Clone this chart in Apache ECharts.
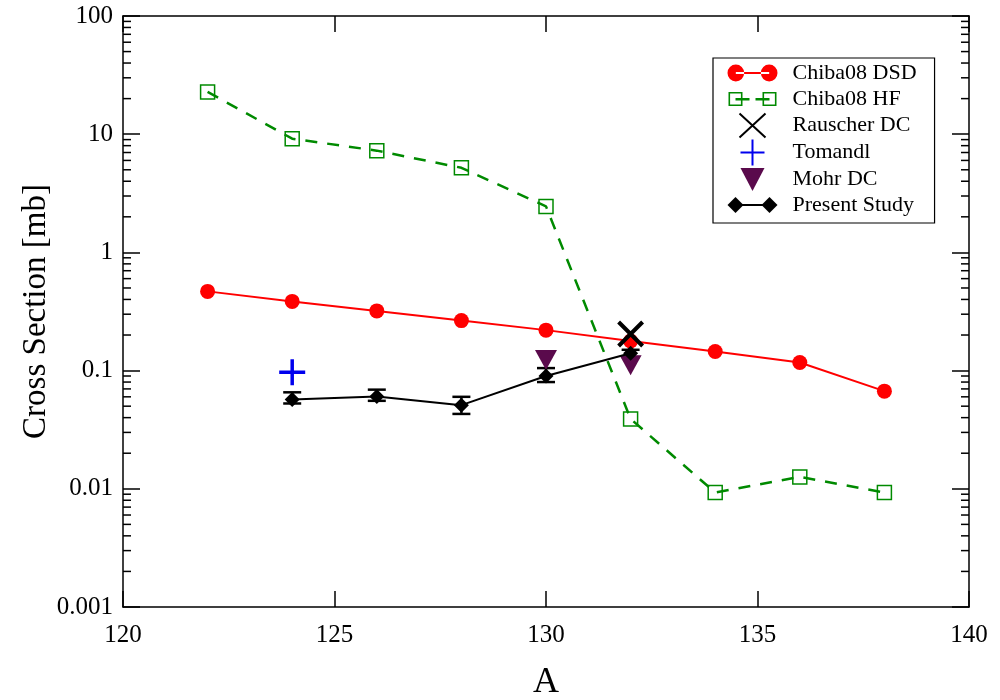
<!DOCTYPE html>
<html>
<head>
<meta charset="utf-8">
<script src="https://cdn.jsdelivr.net/npm/echarts@6/dist/echarts.min.js"></script>
<style>html,body{margin:0;padding:0;background:#fff}#c{width:1000px;height:700px}</style>
</head>
<body>
<div id="c"></div>
<script>
const massA = [122, 124, 126, 128, 130, 132, 134, 136, 138];
const chibaDSD = [0.468, 0.385, 0.32, 0.265, 0.22, 0.178, 0.145, 0.117, 0.067];
const chibaHF = [22.8, 9.16, 7.26, 5.2, 2.45, 0.039, 0.0093, 0.0126, 0.0093];
const rauscherA = [132];
const rauscherDC = [0.204];
const tomandlA = [124];
const tomandl = [0.097];
const mohrA = [130, 132];
const mohrDC = [0.123, 0.111];
const presentA = [124, 126, 128, 130, 132];
const presentStudy = [0.057, 0.0605, 0.051, 0.09, 0.14];
const presentLow = [0.0527, 0.0555, 0.043, 0.08, 0.13];
const presentHigh = [0.0655, 0.069, 0.060, 0.105, 0.15];
const xTickLabels = ['120', '125', '130', '135', '140'];
const yTickLabels = ['0.001', '0.01', '0.1', '1', '10', '100'];

const FONT = 'Liberation Serif';
const minorVals = [];
for (let e = -3; e <= 1; e++) for (let m = 2; m <= 9; m++) minorVals.push(m * Math.pow(10, e));

const zip = (xs, ys) => xs.map((x, i) => [x, ys[i]]);

// legend icons, all framed in the same 50 x 26 box
const FR = 'M0,0L0,0M50,26L50,26 ';
const iconDSD = 'path://' + FR + 'M-0.5,13a8.5,8.5 0 1,0 17,0a8.5,8.5 0 1,0 -17,0Z M33.5,13a8.5,8.5 0 1,0 17,0a8.5,8.5 0 1,0 -17,0Z M8,12L42,12L42,14L8,14Z';
const iconHF = 'path://' + FR + 'M1,6L15,6L15,20L1,20Z M2.6,7.6L2.6,18.4L13.4,18.4L13.4,7.6Z ' +
  'M35,6L49,6L49,20L35,20Z M36.6,7.6L36.6,18.4L47.4,18.4L47.4,7.6Z ' +
  'M8,12L22,12L22,14.4L8,14.4Z M28,12L35,12L35,14.4L28,14.4Z M36.6,12L42,12L42,14.4L36.6,14.4Z';
const iconX = 'path://' + FR + 'M12,1L38,25M38,1L12,25';
const iconPlus = 'path://' + FR + 'M25,-1L25,27M13,13L37,13';
const iconMohr = 'path://' + FR + 'M13,2L37,2L25,25Z';
const iconPS = 'path://' + FR + 'M0,13L8,5L16,13L8,21Z M34,13L42,5L50,13L42,21Z M8,12L42,12L42,14L8,14Z';

const chart = echarts.init(document.getElementById('c'));
chart.setOption({
  animation: false,
  backgroundColor: '#fff',
  grid: { left: 123, right: 31, top: 16, bottom: 93, containLabel: false, outerBoundsMode: 'none' },
  xAxis: [
    { type: 'value', min: 120, max: 140, interval: 5,
      name: 'A', nameLocation: 'middle', nameGap: 58, nameMoveOverlap: false,
      nameTextStyle: { fontFamily: FONT, fontSize: 36, color: '#000' },
      axisLine: { lineStyle: { color: '#000', width: 1.5 } },
      axisTick: { inside: true, length: 16, lineStyle: { color: '#000', width: 1.5 } },
      axisLabel: { fontFamily: FONT, fontSize: 25, color: '#000', margin: 16,
        formatter: v => xTickLabels[xTickLabels.indexOf(String(v))] || String(v) },
      splitLine: { show: false } },
    { type: 'value', position: 'top', min: 120, max: 140, interval: 5,
      axisLine: { lineStyle: { color: '#000', width: 1.5 } },
      axisTick: { inside: true, length: 16, lineStyle: { color: '#000', width: 1.5 } },
      axisLabel: { show: false }, splitLine: { show: false } }
  ],
  yAxis: [
    { type: 'log', logBase: 10, min: 0.001, max: 100,
      name: 'Cross Section [mb]', nameLocation: 'middle', nameGap: 70, nameMoveOverlap: false,
      nameTextStyle: { fontFamily: FONT, fontSize: 33, color: '#000' },
      axisLine: { lineStyle: { color: '#000', width: 1.5 } },
      axisTick: { inside: true, length: 17, lineStyle: { color: '#000', width: 1.5 } },
      axisLabel: { fontFamily: FONT, fontSize: 25, color: '#000', margin: 10,
        formatter: v => { const s = yTickLabels.find(t => Math.abs(parseFloat(t) - v) / v < 1e-6); return s || String(v); } },
      splitLine: { show: false } },
    { type: 'log', logBase: 10, min: 0.001, max: 100, position: 'right',
      axisLine: { lineStyle: { color: '#000', width: 1.5 } },
      axisTick: { inside: true, length: 17, lineStyle: { color: '#000', width: 1.5 } },
      axisLabel: { show: false }, splitLine: { show: false } }
  ],
  legend: {
    orient: 'vertical', left: 713, top: 58,
    backgroundColor: '#fff', borderColor: '#000', borderWidth: 1.2,
    padding: [0, 18, 3, 12], itemGap: -4, itemWidth: 50, itemHeight: 26,
    symbolKeepAspect: false,
    textStyle: { fontFamily: FONT, fontSize: 22, lineHeight: 30, color: '#000', padding: [0, 0, 0, 10] },
    data: [
      { name: 'Chiba08 DSD', icon: iconDSD },
      { name: 'Chiba08 HF', icon: iconHF, itemStyle: { color: '#008a00', borderWidth: 0 } },
      { name: 'Rauscher DC', icon: iconX },
      { name: 'Tomandl', icon: iconPlus },
      { name: 'Mohr DC', icon: iconMohr },
      { name: 'Present Study', icon: iconPS }
    ]
  },
  series: [
    { type: 'custom', name: 'minorTicks', silent: true, clip: false, z: 1,
      renderItem: (params, api) => {
        const v = api.value(1);
        const pl = api.coord([120, v]);
        const pr = api.coord([140, v]);
        return { type: 'group', children: [
          { type: 'line', shape: { x1: pl[0], y1: pl[1], x2: pl[0] + 8, y2: pl[1] }, style: { stroke: '#000', lineWidth: 1.5 } },
          { type: 'line', shape: { x1: pr[0], y1: pr[1], x2: pr[0] - 8, y2: pr[1] }, style: { stroke: '#000', lineWidth: 1.5 } }
        ] };
      },
      data: minorVals.map(v => [120, v]) },
    { type: 'line', name: 'Chiba08 DSD', data: zip(massA, chibaDSD), z: 3,
      symbol: 'circle', symbolSize: 15,
      itemStyle: { color: '#ff0000' }, lineStyle: { color: '#ff0000', width: 2 } },
    { type: 'line', name: 'Chiba08 HF', data: zip(massA, chibaHF), z: 3,
      symbol: 'rect', symbolSize: 14,
      itemStyle: { color: 'rgba(255,255,255,0)', borderColor: '#008a00', borderWidth: 1.5 },
      lineStyle: { color: '#008a00', width: 2.5, type: [12, 10] } },
    { type: 'custom', name: 'presentErr', silent: true, z: 4,
      renderItem: (params, api) => {
        const x = api.value(0);
        const lo = api.coord([x, api.value(1)]);
        const hi = api.coord([x, api.value(2)]);
        const w = 9;
        const st = { stroke: '#000', lineWidth: 2.5 };
        return { type: 'group', children: [
          { type: 'line', shape: { x1: lo[0], y1: lo[1], x2: hi[0], y2: hi[1] }, style: st },
          { type: 'line', shape: { x1: lo[0] - w, y1: lo[1], x2: lo[0] + w, y2: lo[1] }, style: st },
          { type: 'line', shape: { x1: hi[0] - w, y1: hi[1], x2: hi[0] + w, y2: hi[1] }, style: st }
        ] };
      },
      data: presentA.map((x, i) => [x, presentLow[i], presentHigh[i]]) },
    { type: 'line', name: 'Present Study', data: zip(presentA, presentStudy), z: 5,
      symbol: 'diamond', symbolSize: 15,
      itemStyle: { color: '#000' }, lineStyle: { color: '#000', width: 2 } },
    { type: 'scatter', name: 'Mohr DC', data: zip(mohrA, mohrDC), z: 4,
      symbol: 'triangle', symbolRotate: 180, symbolSize: [22, 20],
      itemStyle: { color: '#5a0a4c', opacity: 1 } },
    { type: 'scatter', name: 'Tomandl', data: zip(tomandlA, tomandl), z: 6,
      symbol: 'path://M5,0L5,10M0,5L10,5', symbolSize: 26,
      itemStyle: { color: 'none', borderColor: '#0000ee', borderWidth: 3.5, opacity: 1 } },
    { type: 'scatter', name: 'Rauscher DC', data: zip(rauscherA, rauscherDC), z: 6,
      symbol: 'path://M0,0L10,10M10,0L0,10', symbolSize: 24,
      itemStyle: { color: 'none', borderColor: '#000', borderWidth: 4, opacity: 1 } }
  ]
});
</script>
</body>
</html>
